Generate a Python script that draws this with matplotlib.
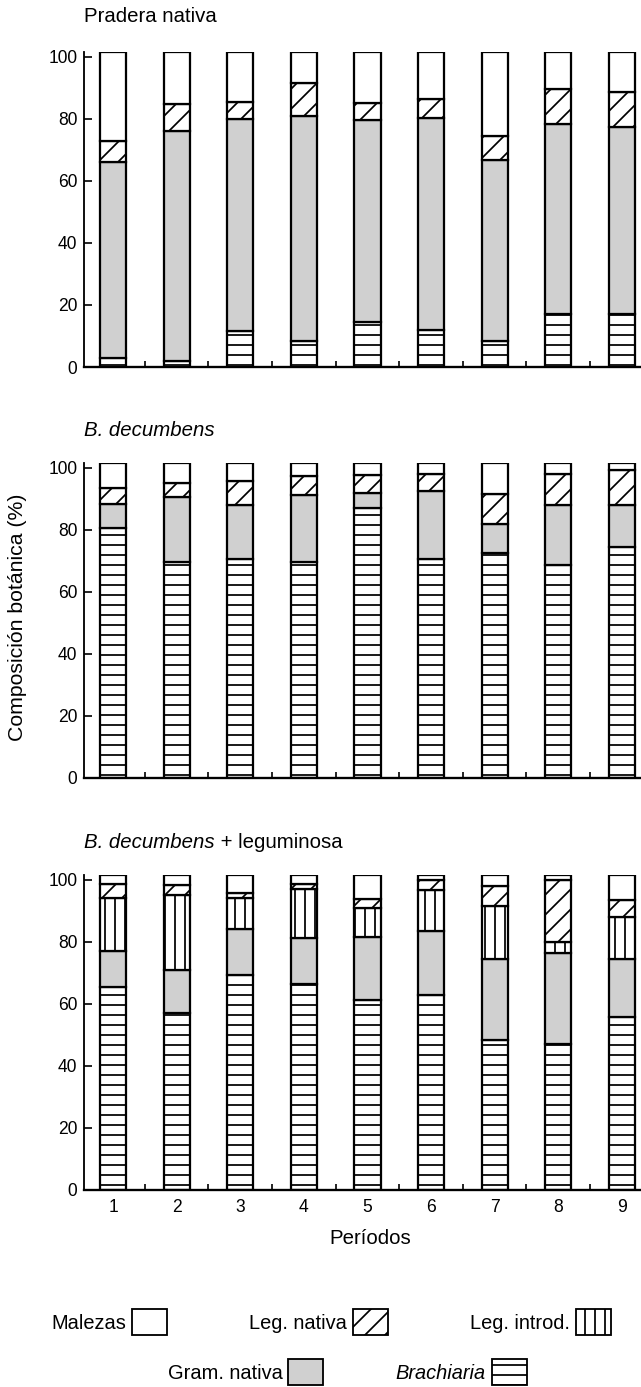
import matplotlib
matplotlib.use('Agg')
import matplotlib.pyplot as plt
from matplotlib.patches import Patch
import numpy as np

plt.rcParams['font.family'] = ['Liberation Sans', 'DejaVu Sans']
plt.rcParams['hatch.linewidth'] = 2.1

# periodos de evaluacion
periodos = [1, 2, 3, 4, 5, 6, 7, 8, 9]

# Pradera nativa (%)
pn_brach = [3.0, 2.0, 11.5, 8.4, 14.5, 11.9, 8.4, 17.2, 17.2]
pn_gram = [63.0, 74.2, 68.5, 72.4, 65.0, 68.2, 58.4, 61.1, 60.1]
pn_legnat = [6.7, 8.6, 5.3, 10.8, 5.6, 6.3, 7.6, 11.4, 11.3]
pn_mal = [28.8, 16.7, 16.2, 9.9, 16.4, 15.1, 27.1, 11.8, 12.9]

# B. decumbens (%)
bd_brach = [80.5, 69.7, 70.7, 69.7, 87.0, 70.7, 72.4, 68.6, 74.3]
bd_gram = [7.8, 20.8, 17.2, 21.4, 4.9, 21.7, 9.4, 19.5, 13.8]
bd_legnat = [5.2, 4.6, 7.8, 6.2, 5.6, 5.6, 9.7, 9.7, 11.0]
bd_mal = [8.0, 6.4, 5.8, 4.2, 4.0, 3.5, 10.0, 3.7, 2.4]

# B. decumbens + leguminosa (%)
bl_brach = [65.5, 56.9, 69.2, 66.5, 61.2, 62.8, 48.3, 46.9, 55.8]
bl_gram = [11.5, 13.9, 15.0, 14.7, 20.3, 20.6, 26.1, 29.6, 18.6]
bl_introd = [17.1, 24.4, 9.9, 15.9, 9.4, 13.4, 17.0, 3.4, 13.6]
bl_legnat = [4.4, 3.2, 1.6, 1.6, 3.0, 3.0, 6.5, 20.1, 5.6]
bl_mal = [3.0, 3.1, 5.8, 2.8, 7.6, 1.7, 3.6, 1.5, 7.9]

# titulo: (texto, estilo, resto en letra normal)
paneles = [
    (('Pradera nativa', 'normal', ''),
     {'Brachiaria': pn_brach, 'Gram. nativa': pn_gram,
      'Leg. nativa': pn_legnat, 'Malezas': pn_mal}),
    (('B. decumbens', 'italic', ''),
     {'Brachiaria': bd_brach, 'Gram. nativa': bd_gram,
      'Leg. nativa': bd_legnat, 'Malezas': bd_mal}),
    (('B. decumbens', 'italic', ' + leguminosa'),
     {'Brachiaria': bl_brach, 'Gram. nativa': bl_gram, 'Leg. introd.': bl_introd,
      'Leg. nativa': bl_legnat, 'Malezas': bl_mal}),
]

orden = ['Brachiaria', 'Gram. nativa', 'Leg. introd.', 'Leg. nativa', 'Malezas']
estilo = {
    'Brachiaria': dict(facecolor='white', hatch='-'),
    'Gram. nativa': dict(facecolor='#d0d0d0', hatch=None),
    'Leg. introd.': dict(facecolor='white', hatch='|'),
    'Leg. nativa': dict(facecolor='white', hatch='/'),
    'Malezas': dict(facecolor='white', hatch=None),
}

W, H = 641, 1387
fig = plt.figure(figsize=(W / 60, H / 60), dpi=60)

bottoms = [1 - 367 / H, 1 - 778 / H, 1 - 1190 / H]
titulo_y = [17, 430, 843]
ax_h = 315 / H
left = 84 / W

for i, (titulo, comp) in enumerate(paneles):
    ax = fig.add_axes([left, bottoms[i], 1 - left, ax_h])
    base = np.zeros(len(periodos))
    for c in orden:
        if c not in comp:
            continue
        v = np.array(comp[c])
        ax.bar(periodos, v, bottom=base, width=0.41, edgecolor='black',
               linewidth=2.7, **estilo[c])
        base = base + v
    ax.set_xlim(0.544, 9.30)
    ax.set_ylim(0, 101.5)
    ax.spines['top'].set_visible(False)
    ax.spines['right'].set_visible(False)
    ax.spines['left'].set_linewidth(2.2)
    ax.spines['bottom'].set_linewidth(2.8)
    ax.set_yticks([0, 20, 40, 60, 80, 100])
    ax.set_xticks(periodos)
    ax.set_xticks([p + 0.5 for p in periodos[:-1]], minor=True)
    ax.tick_params(axis='y', direction='in', length=9, width=2.0, pad=8, labelsize=21)
    ax.tick_params(axis='x', which='major', length=0, pad=11, labelsize=21)
    ax.tick_params(axis='x', which='minor', direction='in', length=7, width=2.0)
    if i < 2:
        ax.set_xticklabels([])
    t1 = fig.text(left, 1 - titulo_y[i] / H, titulo[0], fontsize=24.5,
                  style=titulo[1], va='center', ha='left')
    if titulo[2]:
        # resto del titulo pegado a la parte en cursiva
        fig.canvas.draw()
        x1 = t1.get_window_extent().x1 / fig.bbox.width
        fig.text(x1, 1 - titulo_y[i] / H, titulo[2], fontsize=24.5,
                 va='center', ha='left')

fig.text(18 / W, 1 - 617 / H, 'Composición botánica (%)', rotation=90,
         fontsize=25.5, va='center', ha='center')
fig.text(370 / W, 1 - 1238 / H, 'Períodos', fontsize=24.5, va='center', ha='center')

def parche(c):
    return Patch(edgecolor='black', linewidth=2.2, **estilo[c])

fila1 = ['Malezas', 'Leg. nativa', 'Leg. introd.']
fila2 = ['Gram. nativa', 'Brachiaria']
for fila, cx, cy, sep in [(fila1, 331, 1322, 4.1), (fila2, 347, 1372, 3.6)]:
    leg = fig.legend([parche(c) for c in fila], fila, loc='center',
                     bbox_to_anchor=(cx / W, 1 - cy / H), ncol=len(fila),
                     frameon=False, markerfirst=False, fontsize=24,
                     handlelength=1.75, handleheight=1.55, handletextpad=0.3,
                     columnspacing=sep, borderpad=0, borderaxespad=0)
    for t in leg.get_texts():
        if t.get_text() == 'Brachiaria':
            t.set_style('italic')

fig.savefig('out.png', dpi=60)
